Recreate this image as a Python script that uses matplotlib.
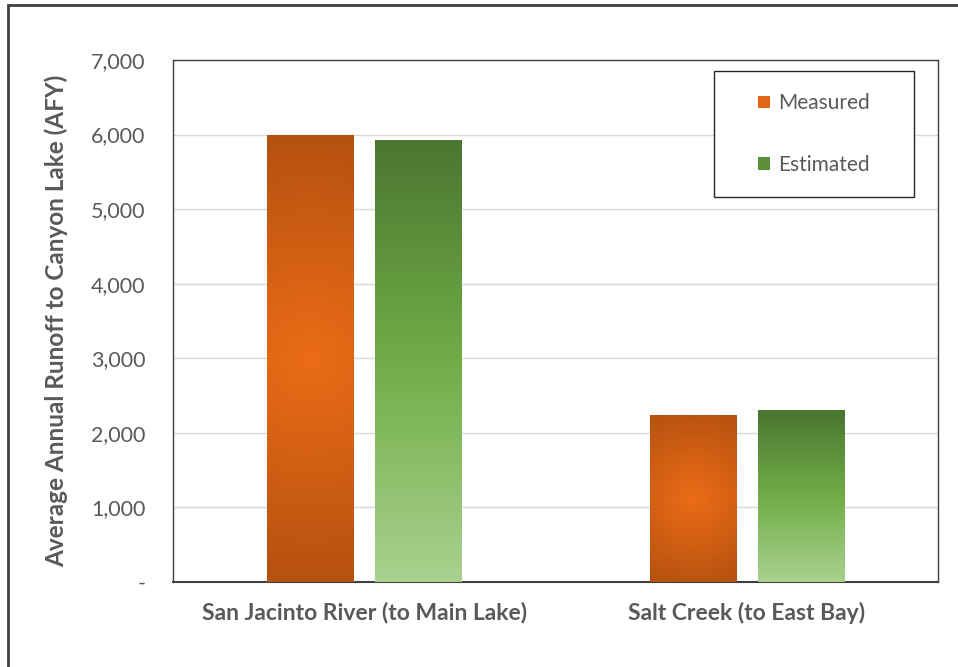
import matplotlib.pyplot as plt
import numpy as np
from matplotlib.patches import Rectangle, Patch
from matplotlib.colors import LinearSegmentedColormap

# data
categories = ['San Jacinto River (to Main Lake)', 'Salt Creek (to East Bay)']
measured = [5990, 2245]
estimated = [5930, 2300]
yticks = [0, 1000, 2000, 3000, 4000, 5000, 6000, 7000]
ytick_labels = ['-', '1,000', '2,000', '3,000', '4,000', '5,000', '6,000', '7,000']

plt.rcParams['font.family'] = ['Lato', 'DejaVu Sans']
grey = '#595959'

fig = plt.figure(figsize=(9.58, 6.67), dpi=100)
W, H = 958, 667
ax = fig.add_axes([173 / W, 1 - 582 / H, 765 / W, 522 / H])

x = np.arange(len(categories))
w = 0.225
off = 0.1415
b1 = ax.bar(x - off, measured, w, color='none', zorder=3)
b2 = ax.bar(x + off, estimated, w, color='none', zorder=3)

ax.set_xlim(-0.5, 1.5)
ax.set_ylim(0, 7000)
ax.set_yticks(yticks)
ax.set_yticklabels(ytick_labels, fontsize=15.5, color=grey)
ax.set_xticks(x)
ax.set_xticklabels(categories, fontsize=16.5, fontweight='bold', color=grey)
ax.tick_params(axis='y', length=0, pad=20)
ax.tick_params(axis='x', length=0, pad=14)
ax.set_ylabel('Average Annual Runoff to Canyon Lake (AFY)', fontsize=17.5,
              fontweight='bold', color=grey, labelpad=16)
ax.grid(axis='y', color='#D9D9D9', lw=1, zorder=0)
for s in ['top', 'left', 'right']:
    ax.spines[s].set_color('#404040')
    ax.spines[s].set_linewidth(1)
ax.spines['bottom'].set_color('#404040')
ax.spines['bottom'].set_linewidth(1.5)

# gradients
orange = LinearSegmentedColormap.from_list('o', ['#EB6C17', '#D05E13', '#B5510F'])
green = LinearSegmentedColormap.from_list('g', ['#A9D18E', '#70AD47', '#4B7630'])
xpx = 765 / 2.0
ypx = 522 / 7000.0
for p in b1:
    x0, y0 = p.get_x(), p.get_y()
    pw, ph = p.get_width(), p.get_height()
    n = 200
    gx = (np.linspace(-0.5, 0.5, n) * pw * xpx)[None, :]
    gy = (np.linspace(-0.5, 0.5, n) * ph * ypx)[:, None]
    r = np.hypot(pw * xpx / 2, ph * ypx / 2)
    t = np.clip(np.hypot(gx, gy) / r, 0, 1)
    im = ax.imshow(t, cmap=orange, extent=[x0, x0 + pw, y0, y0 + ph],
                   aspect='auto', origin='lower', zorder=3, vmin=0, vmax=1)
    im.set_clip_path(p)
for p in b2:
    x0, y0 = p.get_x(), p.get_y()
    pw, ph = p.get_width(), p.get_height()
    t = np.linspace(0, 1, 200)[:, None]
    im = ax.imshow(t, cmap=green, extent=[x0, x0 + pw, y0, y0 + ph],
                   aspect='auto', origin='lower', zorder=3, vmin=0, vmax=1)
    im.set_clip_path(p)
ax.set_xlim(-0.5, 1.5)
ax.set_ylim(0, 7000)

# legend
lx0, lx1 = (714 - 173) / 765, (914 - 173) / 765
ly0, ly1 = (582 - 197) / 522, (582 - 71) / 522
ax.add_patch(Rectangle((lx0, ly0), lx1 - lx0, ly1 - ly0, transform=ax.transAxes,
                       facecolor='white', edgecolor='#262626', lw=1, zorder=5))
handles = [Patch(facecolor='#E26616', edgecolor='none'),
           Patch(facecolor='#5C913A', edgecolor='none')]
leg = ax.legend(handles, ['Measured', 'Estimated'], loc='center',
                bbox_to_anchor=((lx0 + lx1) / 2, (ly0 + ly1) / 2),
                frameon=False, fontsize=15, labelspacing=2.0,
                handlelength=0.55, handleheight=0.55, handletextpad=0.4)
for tx in leg.get_texts():
    tx.set_color(grey)
leg.set_zorder(6)

# outer frame
fig.patches.append(Rectangle((8 / W, -0.1), 1.2, (1 - 5 / H) + 0.1,
                             transform=fig.transFigure, fill=False,
                             edgecolor='#404040', lw=2))

fig.savefig('out.png', dpi=100)
